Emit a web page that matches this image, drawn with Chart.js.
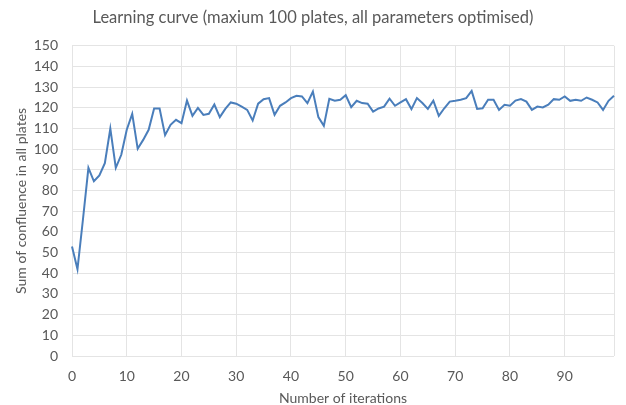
<!DOCTYPE html>
<html>
<head>
<meta charset="utf-8">
<title>Learning curve</title>
<script src="https://cdn.jsdelivr.net/npm/chart.js@4/dist/chart.umd.min.js"></script>
<style>
  html, body { margin: 0; padding: 0; background: #fff; }
  #wrap { width: 626px; height: 405px; position: relative; }
</style>
</head>
<body>
<div id="wrap"><canvas id="curveChart"></canvas></div>
<script>
// --- data ---
const iterations = [
  0, 1, 2, 3, 4, 5, 6, 7, 8, 9,
  10, 11, 12, 13, 14, 15, 16, 17, 18, 19,
  20, 21, 22, 23, 24, 25, 26, 27, 28, 29,
  30, 31, 32, 33, 34, 35, 36, 37, 38, 39,
  40, 41, 42, 43, 44, 45, 46, 47, 48, 49,
  50, 51, 52, 53, 54, 55, 56, 57, 58, 59,
  60, 61, 62, 63, 64, 65, 66, 67, 68, 69,
  70, 71, 72, 73, 74, 75, 76, 77, 78, 79,
  80, 81, 82, 83, 84, 85, 86, 87, 88, 89,
  90, 91, 92, 93, 94, 95, 96, 97, 98, 99
];

const confluence = [
  53, 42, 66, 91, 84.5, 87.3, 93.2, 110, 91, 97.3,
  109.4, 117.1, 100.2, 104.5, 109.4, 119.7, 119.7, 106.8, 111.8, 114.2,
  112.6, 123.5, 116.1, 120, 116.6, 117.1, 121.6, 115.5, 119.5, 122.6,
  122, 120.6, 119, 113.9, 122, 124.2, 124.7, 116.6, 121, 122.6,
  124.7, 125.8, 125.5, 122.3, 127.9, 115.5, 111.3, 124.4, 123.4, 123.9,
  126.1, 120.3, 123.4, 122.3, 122, 118.2, 119.7, 120.6, 124.4, 121,
  122.6, 124.2, 119.4, 124.7, 122.3, 119.5, 123.5, 116.1, 119.8, 123,
  123.4, 123.9, 124.7, 128.2, 119.5, 119.8, 123.9, 123.9, 119, 121.5,
  121, 123.5, 124.2, 123, 119, 120.6, 120.2, 121.5, 124.2, 123.9,
  125.5, 123.4, 123.9, 123.4, 125, 123.9, 122.6, 119, 123.4, 125.8
];

// x labels that are shown (every 10th iteration)
const xTickLabels = ['0', '10', '20', '30', '40', '50', '60', '70', '80', '90'];

const yMin = 0;
const yMax = 150;
const yStep = 10;

// --- style ---
const textGrey = '#595959';
const gridGrey = '#e4e4e4';
const fontFamily = 'Lato, "Open Sans", sans-serif';

// gridline on every labelled iteration, plus one closing the right side
function xGridColor(c) {
  if (!c.tick) return 'transparent';
  if (xTickLabels.includes(c.tick.label)) return gridGrey;
  if (c.index === iterations.length - 1) return gridGrey;
  return 'transparent';
}

const ctx = document.getElementById('curveChart').getContext('2d');
new Chart(ctx, {
  type: 'line',
  data: {
    labels: iterations.map(String),
    datasets: [{
      data: confluence,
      borderColor: '#4a7ebb',
      backgroundColor: 'transparent',
      borderWidth: 2,
      pointRadius: 0,
      tension: 0
    }]
  },
  options: {
    responsive: true,
    maintainAspectRatio: false,
    animation: false,
    layout: { padding: { left: 0, right: 0, top: 0, bottom: 0 } },
    plugins: {
      legend: { display: false },
      tooltip: { enabled: false },
      title: {
        display: true,
        text: 'Learning curve (maxium 100 plates, all parameters optimised)',
        color: textGrey,
        font: { family: fontFamily, size: 16.5, weight: 'normal' },
        padding: { top: 8, bottom: 18 }
      }
    },
    scales: {
      x: {
        type: 'category',
        offset: false,
        grid: { color: xGridColor, drawTicks: false },
        border: { display: false },
        ticks: {
          autoSkip: false,
          maxRotation: 0,
          padding: 12,
          color: textGrey,
          font: { family: fontFamily, size: 14 },
          callback: function (val) {
            const lab = this.getLabelForValue(val);
            return xTickLabels.includes(lab) ? lab : '';
          }
        },
        title: {
          display: true,
          text: 'Number of iterations',
          color: textGrey,
          font: { family: fontFamily, size: 14, lineHeight: 1 },
          padding: { top: 2, bottom: 0 }
        },
        // plot bottom sits at y = 356
        afterFit: s => { s.height = 49; }
      },
      y: {
        min: yMin,
        max: yMax,
        grid: { color: gridGrey, drawTicks: false },
        border: { display: false },
        ticks: {
          stepSize: yStep,
          padding: 14,
          color: textGrey,
          font: { family: fontFamily, size: 14 }
        },
        title: {
          display: true,
          text: 'Sum of confluence in all plates',
          color: textGrey,
          font: { family: fontFamily, size: 14 },
          padding: { top: 13, bottom: 0 }
        },
        // plot left edge at x = 72
        afterFit: s => { s.width = 72; }
      }
    }
  }
});
</script>
</body>
</html>
